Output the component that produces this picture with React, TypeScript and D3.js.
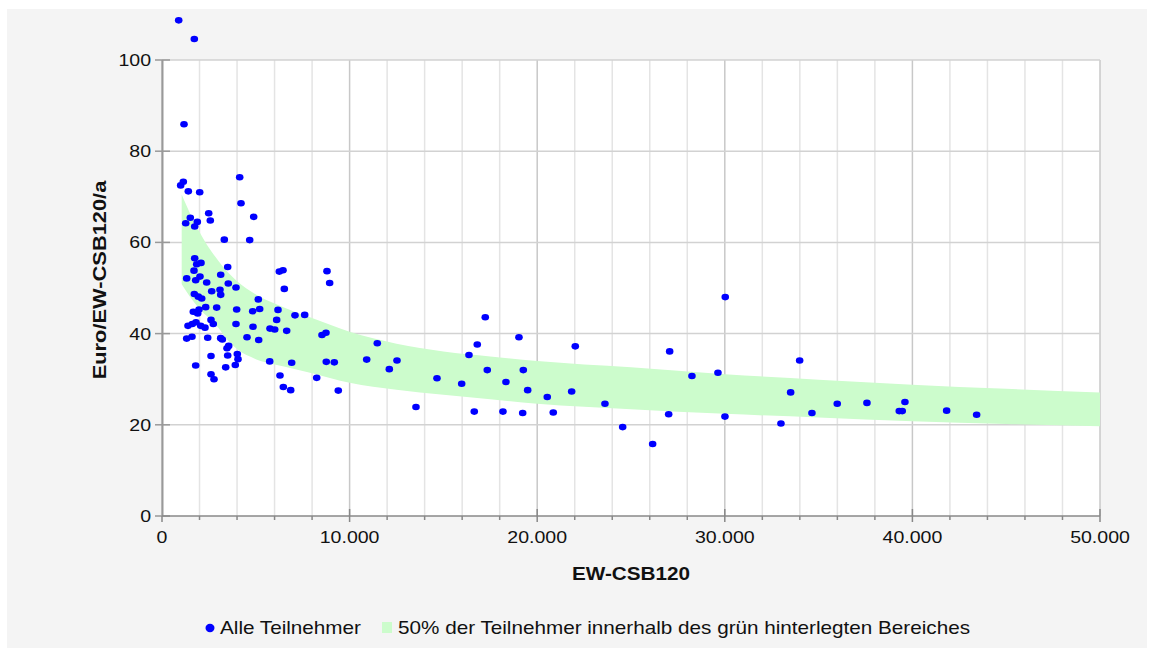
import React from "react";
import * as d3 from "d3";

const pointX = [890,1722,1173,1137,995,1403,2009,4141,4211,2489,2575,4888,1509,1263,1882,1743,3321,4675,1743,2079,1850,3502,1706,3129,1316,2025,1796,2382,3534,3944,2649,3091,3129,1722,1935,2116,5133,2329,2915,1668,1972,1903,3980,4834,5207,6183,6112,7089,7606,1386,1615,1812,2063,2292,2612,2734,3944,4850,5756,6007,6646,8528,8741,1316,1599,2436,3129,3216,4531,5154,3555,3465,2612,3502,4014,4051,3907,3395,1796,5741,6913,8757,9184,2612,2772,6290,6468,6860,8246,9397,6254,6450,8795,8937,6520,11476,10911,17232,19028,16806,16363,12526,12117,17339,19259,14658,15975,18335,19492,20537,13538,16646,18175,19226,22030,21837,20856,23612,24556,26154,27061,27008,28249,29635,30024,30008,32993,33510,33990,34645,35994,37577,39299,39459,39603,41825,43424];
const pointY = [108.7,104.6,85.9,73.3,72.5,71.2,71.0,74.3,68.6,66.4,64.8,65.6,65.4,64.2,64.5,63.5,60.6,60.5,56.5,55.5,55.2,54.6,53.8,52.9,52.1,52.5,51.7,51.2,51.0,50.1,49.3,49.6,48.5,48.7,48.1,47.7,47.5,45.8,45.7,44.8,45.3,44.4,45.3,44.9,45.4,45.2,43.0,44.0,44.1,41.7,42.1,42.5,41.7,41.3,43.0,42.1,42.1,41.5,41.1,40.9,40.6,39.7,40.2,38.9,39.3,39.1,39.0,38.7,39.2,38.6,37.3,36.8,35.1,35.2,35.5,34.4,33.1,32.6,33.0,33.9,33.6,33.8,33.7,31.1,30.0,30.8,28.3,27.6,30.3,27.5,53.6,53.9,53.7,51.1,49.8,37.9,34.3,43.6,39.2,37.6,35.3,34.1,32.2,32.0,32.0,30.2,29.0,29.4,27.6,26.1,23.9,22.9,22.9,22.6,37.2,27.3,22.7,24.6,19.5,15.8,36.1,22.3,30.7,31.4,48.0,21.8,20.3,27.1,34.1,22.6,24.6,24.8,23.0,23.0,25.0,23.1,22.2];

const bandX = [1050,1500,2000,2500,3000,3500,4000,5000,6000,7000,8000,10000,12500,15000,17500,20000,25000,30000,35000,40000,45000,50000];
const bandUpper = [70.5,66.3,62.3,58.8,56.0,53.5,51.5,48.6,46.6,44.9,43.4,40.4,37.8,36.1,35.0,34.0,32.6,31.1,29.9,28.8,27.9,27.1];
const bandLower = [50.8,48.0,45.4,43.4,41.3,38.6,36.6,34.4,33.2,32.3,31.3,29.2,27.7,26.6,25.6,24.6,23.4,22.4,21.6,20.8,20.2,19.7];

const yTicks = [0,20,40,60,80,100];
const xMajorTicks = [0,10000,20000,30000,40000,50000];
const xMinorTicks = d3.range(0, 50001, 2000);

const xTitle = "EW-CSB120";
const yTitle = "Euro/EW-CSB120/a";
const legendPoints = "Alle Teilnehmer";
const legendBand = "50% der Teilnehmer innerhalb des grün hinterlegten Bereiches";

const SX = 1.15;
const FONT = "'Liberation Sans', Arial, sans-serif";

function T(props: { x: number; y: number; anchor?: string; size: number; bold?: boolean; rotate?: number; children: React.ReactNode }) {
  const { x, y, anchor = "start", size, bold, rotate = 0, children } = props;
  return (
    <text
      transform={`translate(${x},${y}) rotate(${rotate}) scale(${SX},1)`}
      textAnchor={anchor}
      fontFamily={FONT}
      fontSize={size}
      fontWeight={bold ? "bold" : "normal"}
      fill="#111"
    >
      {children}
    </text>
  );
}

export default function App() {
  const x = d3.scaleLinear().domain([0, 50000]).range([162, 1100]);
  const y = d3.scaleLinear().domain([0, 100]).range([516, 60]);
  const fmt = d3.formatLocale({ decimal: ",", thousands: ".", grouping: [3], currency: ["", "€"] }).format(",");

  const band = bandX.map((bx, i) => ({ x: bx, u: bandUpper[i], l: bandLower[i] }));
  const area = d3
    .area<{ x: number; u: number; l: number }>()
    .x((d) => x(d.x))
    .y0((d) => y(d.l))
    .y1((d) => y(d.u))
    .curve(d3.curveMonotoneX);

  const [x0, x1] = x.range();
  const [yb, yt] = y.range();

  return (
    <svg width={1154} height={653} style={{ position: "absolute", left: 0, top: 0 }}>
      <rect x={0} y={0} width={1154} height={653} fill="#fff" />
      <rect x={7} y={9} width={1140} height={639} fill="#f4f4f4" />
      <rect x={x0} y={yt} width={x1 - x0} height={yb - yt} fill="#fff" />
      {xMinorTicks.map((t) => (
        <line key={"vg" + t} x1={x(t)} x2={x(t)} y1={yt} y2={yb} stroke={t % 10000 === 0 ? "#c8c8c8" : "#e4e4e4"} strokeWidth={1.5} />
      ))}
      {yTicks.filter((t) => t > 0).map((t) => (
        <line key={"hg" + t} x1={x0} x2={x1} y1={y(t)} y2={y(t)} stroke="#d2d2d2" strokeWidth={1.5} />
      ))}
      <path d={area(band) || ""} fill="#ccfccc" />
      {pointX.map((px, i) => (
        <ellipse key={"p" + i} cx={x(px)} cy={y(pointY[i])} rx={3.8} ry={3.3} fill="#0000ff" />
      ))}
      {/* axes */}
      <line x1={x0 + 0.5} x2={x0 + 0.5} y1={yt} y2={yb} stroke="#999" strokeWidth={2} />
      {yTicks.map((t) => (
        <line key={"yt" + t} x1={x0 - 7} x2={x0 + 8} y1={y(t)} y2={y(t)} stroke="#999" strokeWidth={1.5} />
      ))}
      <line x1={x0} x2={x1} y1={yb} y2={yb} stroke="#888" strokeWidth={1.5} />
      {xMinorTicks.map((t) => (
        <line key={"xt" + t} x1={x(t)} x2={x(t)} y1={t % 10000 === 0 && t > 0 ? yb - 7 : yb} y2={t % 10000 === 0 ? yb + 6 : yb + 4} stroke="#888" strokeWidth={1.5} />
      ))}
      {yTicks.map((t) => (
        <T key={"yl" + t} x={151} y={y(t) + 6} anchor="end" size={17}>{String(t)}</T>
      ))}
      {xMajorTicks.map((t) => (
        <T key={"xl" + t} x={x(t)} y={543} anchor="middle" size={17}>{fmt(t)}</T>
      ))}
      <T x={(x0 + x1) / 2} y={580} anchor="middle" size={18} bold>{xTitle}</T>
      <T x={106} y={280} anchor="middle" size={19} bold rotate={-90}>{yTitle}</T>
      {/* legend */}
      <ellipse cx={210} cy={628} rx={4.5} ry={4.2} fill="#0000ff" />
      <T x={220} y={634} size={18}>{legendPoints}</T>
      <rect x={382} y={622} width={10} height={11} fill="#ccfccc" />
      <T x={398} y={634} size={18}>{legendBand}</T>
    </svg>
  );
}
